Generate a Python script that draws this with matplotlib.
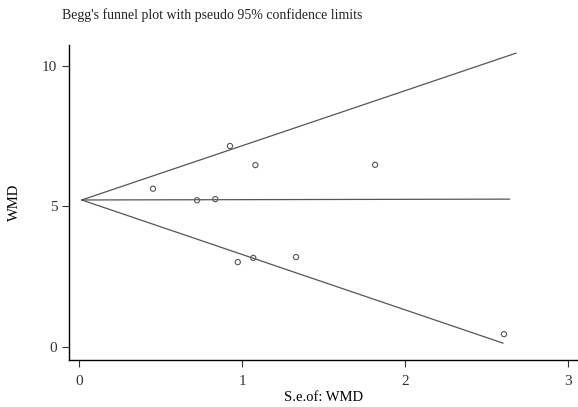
import matplotlib
matplotlib.use("Agg")
import matplotlib.pyplot as plt

# study data: standard error vs WMD
se = [0.454, 0.926, 1.082, 1.816, 0.724, 0.836, 0.974, 1.069, 1.331, 2.606]
wmd = [5.63, 7.15, 6.47, 6.48, 5.22, 5.26, 3.02, 3.17, 3.20, 0.46]

# pseudo 95% limits (start / end points)
apex_se, apex_wmd = 0.017, 5.23
upper_end = (2.68, 10.45)
center_end = (2.64, 5.26)
lower_end = (2.60, 0.14)

xticks = [0, 1, 2, 3]
yticks = [0, 5, 10]

plt.rcParams['font.family'] = ['Liberation Serif', 'DejaVu Serif']

fig = plt.figure(figsize=(5.78, 4.07), dpi=100)
ax = fig.add_axes([69 / 578, 47 / 407, 1 - 69 / 578, (360 - 45) / 407])

line_kw = dict(color='#555555', lw=0.9)
for end in (upper_end, center_end, lower_end):
    ax.plot([apex_se, end[0]], [apex_wmd, end[1]], **line_kw)

ax.scatter(se, wmd, s=14, facecolors='none', edgecolors='#555555', linewidths=0.8, zorder=3)

ax.set_xlim(-0.061, 3.06)
ax.set_ylim(-0.46, 10.74)
ax.set_xticks(xticks)
ax.set_yticks(yticks)
ax.tick_params(direction='out', length=5, width=0.8, labelsize=11, colors='#333333')
ax.tick_params(axis='x', pad=6)

for s in ('top', 'right'):
    ax.spines[s].set_visible(False)
for s in ('left', 'bottom'):
    ax.spines[s].set_linewidth(1.0)

ax.set_xlabel("S.e.of: WMD", fontsize=10.5, labelpad=2)
ax.set_ylabel("WMD", fontsize=10.5, labelpad=15)

fig.text(62 / 578, 1 - 15 / 407, "Begg's funnel plot with pseudo 95% confidence limits",
         fontsize=10, va='center', ha='left', color='#222222')

fig.savefig("out.png", dpi=100)
